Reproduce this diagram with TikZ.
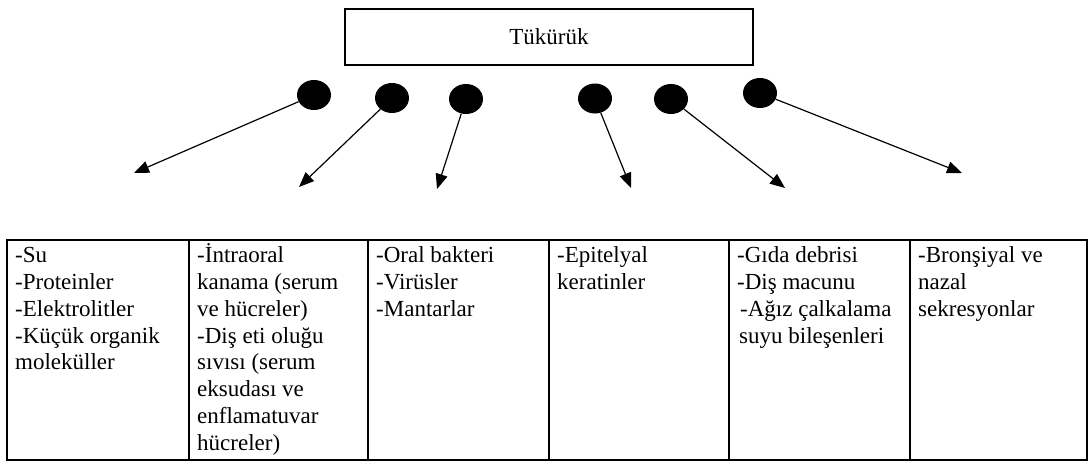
\documentclass[tikz,border=0pt]{standalone}
\usepackage{fontspec}
\setmainfont{Liberation Serif}
\usetikzlibrary{shapes.geometric,arrows.meta}
\newcommand\fstrut{\rule{0pt}{21pt}}
\begin{document}
\begin{tikzpicture}[x=1pt,y=-1pt,
  txt/.style={font=\fontsize{23}{26.8}\selectfont},
  dot/.style={ellipse, fill=black, draw=none, minimum width=34pt, minimum height=30pt, inner sep=0pt},
  arr/.style={-{Triangle[length=15pt,width=12pt]}, line width=1.2pt},
  cell/.style={draw, line width=2pt, anchor=north west, minimum height=220pt, inner sep=0pt, outer sep=0pt},
  celltext/.style={txt, anchor=north west, inner sep=0pt, align=left},
  ]
\useasboundingbox (0,0) rectangle (1089,463);
% title box
\node[txt, draw, line width=2pt, minimum width=408pt, minimum height=56pt, inner sep=0pt] (top) at (549,37) {Tükürük};
% dots
\node[dot] (e1) at (314,95) {};
\node[dot] (e2) at (392,98) {};
\node[dot] (e3) at (466,99) {};
\node[dot] (e4) at (595,98.5) {};
\node[dot] (e5) at (671,99) {};
\node[dot] (e6) at (760,93) {};
% arrow tips
\coordinate (a1) at (134,173);
\coordinate (a2) at (299,187);
\coordinate (a3) at (437,189);
\coordinate (a4) at (631,188);
\coordinate (a5) at (785,188);
\coordinate (a6) at (962,173);
\foreach \i in {1,...,6} \draw[arr] (e\i) -- (a\i);
% table cells
\node[cell, minimum width=182pt] (c1) at (7,240) {};
\node[cell, minimum width=179pt] (c2) at (189,240) {};
\node[cell, minimum width=181pt] (c3) at (368,240) {};
\node[cell, minimum width=180pt] (c4) at (549,240) {};
\node[cell, minimum width=181pt] (c5) at (729,240) {};
\node[cell, minimum width=177pt] (c6) at (910,240) {};
% cell texts
\node[celltext] (t1) at ([xshift=8pt,yshift=-1.5pt]c1.north west) {\fstrut-Su\\-Proteinler\\-Elektrolitler\\-Küçük organik\\moleküller};
\node[celltext] (t2) at ([xshift=8pt,yshift=-1.5pt]c2.north west) {\fstrut-İntraoral\\kanama (serum\\ve hücreler)\\-Diş eti oluğu\\sıvısı (serum\\eksudası ve\\enflamatuvar\\hücreler)};
\node[celltext] (t3) at ([xshift=8pt,yshift=-1.5pt]c3.north west) {\fstrut-Oral bakteri\\-Virüsler\\-Mantarlar};
\node[celltext] (t4) at ([xshift=8pt,yshift=-1.5pt]c4.north west) {\fstrut-Epitelyal\\keratinler};
\node[celltext] (t5) at ([xshift=8pt,yshift=-1.5pt]c5.north west) {\fstrut-Gıda debrisi\\-Diş macunu\\\hspace*{3pt}-Ağız çalkalama\\\hspace*{2pt}suyu bileşenleri};
\node[celltext] (t6) at ([xshift=8pt,yshift=-1.5pt]c6.north west) {\fstrut-Bronşiyal ve\\nazal\\sekresyonlar};
\end{tikzpicture}
\end{document}
